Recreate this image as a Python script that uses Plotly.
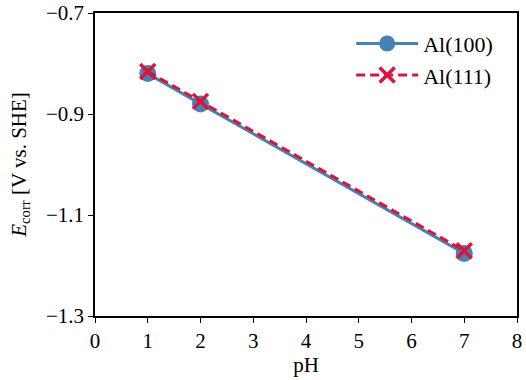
import plotly.graph_objects as go

ph = [1, 2, 7]
al100 = [-0.820, -0.880, -1.176]
al111 = [-0.816, -0.875, -1.171]
xticks = [0, 1, 2, 3, 4, 5, 6, 7, 8]
yticks = [-1.3, -1.1, -0.9, -0.7]

fig = go.Figure()
fig.add_trace(go.Scatter(
    x=ph, y=al100, name="Al(100)", mode="lines+markers", legendgroup="a",
    line=dict(color="#4682B4", width=3),
    marker=dict(symbol="circle", size=17, color="#4682B4"),
))
fig.add_trace(go.Scatter(
    x=ph, y=al111, name="Al(111)", mode="lines+markers", legendgroup="b",
    line=dict(color="#DC143C", width=3, dash="9px,5px"),
    marker=dict(symbol="x-thin", size=15, color="#DC143C",
                line=dict(color="#DC143C", width=3.5)),
))

serif = "Liberation Serif"
axis_common = dict(
    showline=True, linecolor="black", linewidth=1.5, mirror=True,
    ticks="outside", ticklen=5, tickwidth=1.3, tickcolor="black",
    showgrid=False, zeroline=False, automargin=False,
    tickfont=dict(family=serif, size=21, color="black"),
)
fig.update_xaxes(range=[0, 8], tickvals=xticks,
                 title=dict(text="pH", font=dict(family=serif, size=21, color="black"), standoff=2),
                 **axis_common)
fig.update_yaxes(range=[-1.3, -0.7], tickvals=yticks, tickformat=".1f",
                 title=dict(text="<i>E</i><sub>corr</sub> [V vs. SHE]",
                            font=dict(family=serif, size=21, color="black"), standoff=14),
                 **axis_common)

fig.update_layout(
    width=526, height=380,
    margin=dict(l=95, r=9, t=13, b=64),
    plot_bgcolor="white", paper_bgcolor="white",
    font=dict(family=serif, size=21, color="black"),
    legend=dict(x=0.607, y=0.968, xanchor="left", yanchor="top", itemwidth=62,
                traceorder="grouped", tracegroupgap=0,
                bgcolor="rgba(255,255,255,0)", font=dict(family=serif, size=22, color="black")),
    showlegend=True,
)
fig.write_html("out.html", config={"displayModeBar": False},
               post_script="document.body.style.margin='0';document.body.style.padding='0';")
